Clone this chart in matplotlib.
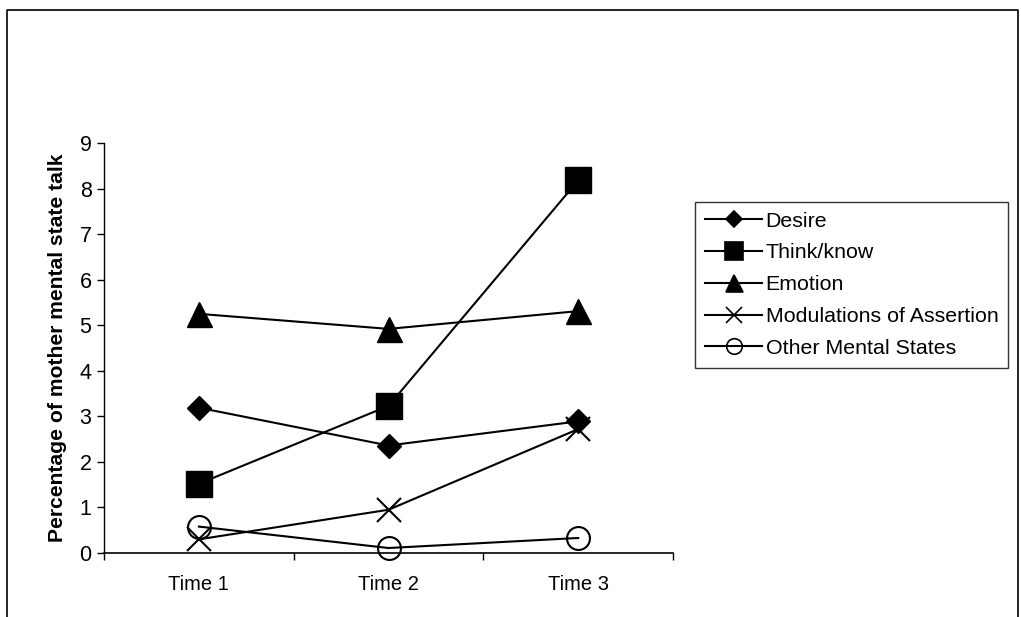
import matplotlib.pyplot as plt
from matplotlib.lines import Line2D

plt.rcParams['font.family'] = ['Liberation Sans', 'DejaVu Sans']

times = ["Time 1", "Time 2", "Time 3"]
desire = [3.19, 2.36, 2.89]
think_know = [1.52, 3.23, 8.18]
emotion = [5.25, 4.92, 5.31]
modulations = [0.30, 0.95, 2.72]
other_states = [0.58, 0.11, 0.33]

series = [
    ("Desire", desire, "D", 12, "black"),
    ("Think/know", think_know, "s", 18.5, "black"),
    ("Emotion", emotion, "^", 18, "black"),
    ("Modulations of Assertion", modulations, "x", 17.5, "black"),
    ("Other Mental States", other_states, "o", 16.5, "none"),
]

fig = plt.figure(figsize=(10.21, 6.17), dpi=100)
ax = fig.add_axes([0.1019, 0.1037, 0.5573, 0.6645])

x = range(len(times))
for name, vals, mk, ms, fc in series:
    ax.plot(x, vals, color="black", lw=1.5, marker=mk, markersize=ms,
            markerfacecolor=fc, markeredgecolor="black",
            markeredgewidth=1.5 if mk in ("x", "o") else 1, label=name,
            clip_on=False)

ax.set_xlim(-0.5, 2.5)
ax.set_ylim(0, 9)
ax.set_yticks(range(0, 10))
ax.set_xticks(x)
ax.set_xticklabels(times)
# category separators as ticks between groups
ax.set_xticks([-0.5, 0.5, 1.5, 2.5], minor=True)
ax.tick_params(axis="x", which="major", length=0, pad=16, labelsize=14.5)
ax.tick_params(axis="x", which="minor", length=5, width=1, direction="out")
ax.tick_params(axis="y", length=5, width=1, direction="out", labelsize=15.5, pad=4)
for side in ("top", "right"):
    ax.spines[side].set_visible(False)
ax.spines["left"].set_linewidth(1)
ax.spines["bottom"].set_linewidth(1.2)
ax.set_ylabel("Percentage of mother mental state talk", fontsize=15.2,
              fontweight="bold", labelpad=9)

handles = [Line2D([], [], color="black", lw=1.5, marker=mk,
                  markersize=ms * 0.68, markerfacecolor=fc,
                  markeredgecolor="black", markeredgewidth=1.2)
           for name, vals, mk, ms, fc in series]
leg = fig.legend(handles, [s[0] for s in series], loc="upper left",
                 bbox_to_anchor=(695 / 1021, 1 - 202 / 617),
                 frameon=True, fancybox=False, fontsize=15.4,
                 handlelength=2.7, handletextpad=0.15, labelspacing=0.6,
                 borderpad=0.45, borderaxespad=0)
leg.get_frame().set_edgecolor("black")
leg.get_frame().set_linewidth(1)

# outer frame (open at the bottom)
fx = [7 / 1021, 7 / 1021, 1018 / 1021, 1018 / 1021]
fy = [0, 1 - 10 / 617, 1 - 10 / 617, 0]
fig.add_artist(Line2D(fx, fy, color="black", lw=1.2, transform=fig.transFigure))

fig.savefig("out.png", dpi=100)
